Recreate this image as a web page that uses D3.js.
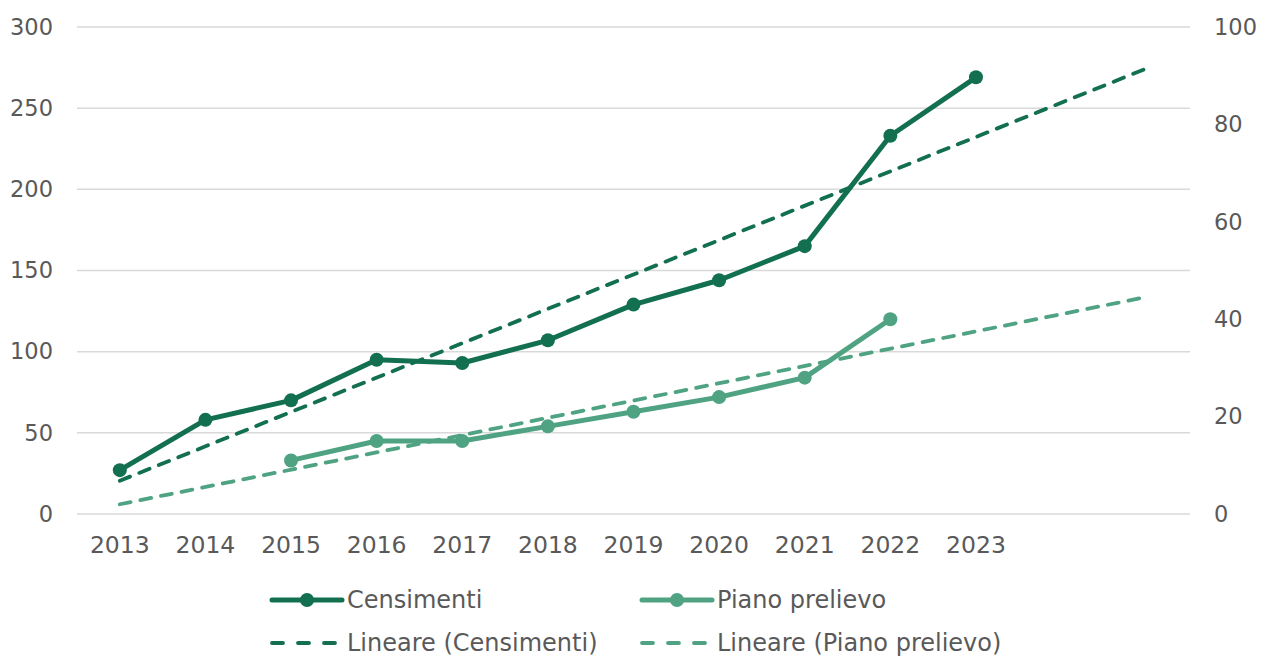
<!DOCTYPE html>
<html>
<head>
<meta charset="utf-8">
<script src="https://cdn.jsdelivr.net/npm/d3@7"></script>
<style>
  body { margin: 0; background: #fff; }
  text { font-family: "DejaVu Sans", Verdana, sans-serif; fill: #595959; }
</style>
</head>
<body>
<svg width="1262" height="659"></svg>
<script>
// categories (two empty slots at the end for the trend forecast)
const years = ['2013','2014','2015','2016','2017','2018','2019','2020','2021','2022','2023','',' '];
const censimenti = [27, 58, 70, 95, 93, 107, 129, 144, 165, 233, 269];
const pianoPrelievo = [null, null, 11, 15, 15, 18, 21, 24, 28, 40];
// linear trend end points (first and last category)
const trendCensimenti = [20.5, 274.6];
const trendPiano = [2.0, 44.6];
const leftTicks = [0, 50, 100, 150, 200, 250, 300];
const rightTicks = [0, 20, 40, 60, 80, 100];

const dark = '#126f50', light = '#4fa383';
let svg = d3.select('svg');

const plotL = 77, plotR = 1190, plotT = 27, plotB = 514;
let x = d3.scaleBand().domain(years).range([plotL, plotR]);
let yL = d3.scaleLinear().domain([0, 300]).range([plotB, plotT]);
let yR = d3.scaleLinear().domain([0, 100]).range([plotB, plotT]);
const cx = i => x(years[i]) + x.bandwidth() / 2;

// gridlines
svg.append('g').selectAll('line').data(leftTicks).enter().append('line')
  .attr('x1', plotL).attr('x2', plotR)
  .attr('y1', d => yL(d)).attr('y2', d => yL(d))
  .attr('stroke', '#d9d9d9').attr('stroke-width', 1.5);

// left axis
let axL = svg.append('g').attr('transform', 'translate(' + (plotL - 24) + ',0)')
  .call(d3.axisLeft(yL).tickValues(leftTicks).tickSize(0).tickPadding(0));
axL.select('.domain').remove();

// right axis
let axR = svg.append('g').attr('transform', 'translate(' + (plotR + 24) + ',0)')
  .call(d3.axisRight(yR).tickValues(rightTicks).tickSize(0).tickPadding(0));
axR.select('.domain').remove();

// x axis
let axX = svg.append('g').attr('transform', 'translate(0,' + plotB + ')')
  .call(d3.axisBottom(x).tickSize(0).tickPadding(22));
axX.select('.domain').remove();
svg.selectAll('.tick text')
  .attr('font-family', '"DejaVu Sans", Verdana, sans-serif')
  .attr('font-size', 22.5).attr('fill', '#595959');
axX.selectAll('text').attr('font-size', 23.5);

// trend lines
let line = d3.line().x(d => d[0]).y(d => d[1]);
svg.append('path')
  .attr('d', line([[cx(0), yL(trendCensimenti[0])], [cx(12), yL(trendCensimenti[1])]]))
  .attr('stroke', dark).attr('stroke-width', 3.8).attr('fill', 'none')
  .attr('stroke-dasharray', '11,10').attr('stroke-linecap', 'round');
svg.append('path')
  .attr('d', line([[cx(0), yR(trendPiano[0])], [cx(12), yR(trendPiano[1])]]))
  .attr('stroke', light).attr('stroke-width', 3.8).attr('fill', 'none')
  .attr('stroke-dasharray', '11,10').attr('stroke-linecap', 'round');

// series
function drawSeries(data, y, color) {
  let pts = data.map((v, i) => [i, v]).filter(d => d[1] != null);
  svg.append('path')
    .attr('d', line(pts.map(d => [cx(d[0]), y(d[1])])))
    .attr('stroke', color).attr('stroke-width', 5).attr('fill', 'none')
    .attr('stroke-linejoin', 'round');
  svg.append('g').selectAll('circle').data(pts).enter().append('circle')
    .attr('cx', d => cx(d[0])).attr('cy', d => y(d[1]))
    .attr('r', 7).attr('fill', color);
}
drawSeries(pianoPrelievo, yR, light);
drawSeries(censimenti, yL, dark);

// legend
const legend = [
  { name: 'Censimenti', color: dark, dash: false, x: 272, y: 600 },
  { name: 'Piano prelievo', color: light, dash: false, x: 642, y: 600 },
  { name: 'Lineare (Censimenti)', color: dark, dash: true, x: 272, y: 643 },
  { name: 'Lineare (Piano prelievo)', color: light, dash: true, x: 642, y: 643 }
];
let lg = svg.append('g').selectAll('g').data(legend).enter().append('g')
  .attr('transform', d => 'translate(' + d.x + ',' + d.y + ')');
lg.append('line').attr('x1', 0).attr('x2', 70).attr('y1', 0).attr('y2', 0)
  .attr('stroke', d => d.color)
  .attr('stroke-width', d => d.dash ? 3.8 : 5)
  .attr('stroke-linecap', 'round')
  .attr('stroke-dasharray', d => d.dash ? '11,15' : null);
lg.filter(d => !d.dash).append('circle').attr('cx', 35).attr('cy', 0).attr('r', 7)
  .attr('fill', d => d.color);
lg.append('text').attr('x', 75).attr('y', 0).attr('dy', '0.35em')
  .attr('font-size', 24).text(d => d.name);
</script>
</body>
</html>
